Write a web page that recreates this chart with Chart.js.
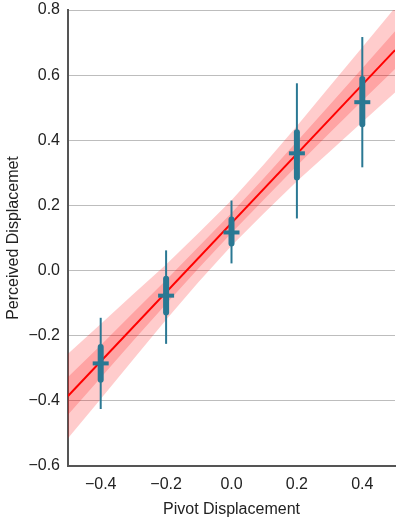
<!DOCTYPE html>
<html>
<head>
<meta charset="utf-8">
<script src="https://cdn.jsdelivr.net/npm/chart.js@4"></script>
<style>
  html, body { margin: 0; padding: 0; background: #fff; }
  canvas { display: block; }
</style>
</head>
<body>
<canvas id="chart" width="397" height="519"></canvas>
<script>
// значения
const pivotX = [-0.4, -0.2, 0.0, 0.2, 0.4];
const meanY = [-0.285, -0.077, 0.117, 0.36, 0.517];
const thinLo = [-0.425, -0.225, 0.022, 0.16, 0.317];
const thinHi = [-0.145, 0.062, 0.215, 0.575, 0.717];
const thickLo = [-0.335, -0.129, 0.083, 0.286, 0.449];
const thickHi = [-0.235, -0.025, 0.157, 0.425, 0.588];

// линия регрессии и доверительные полосы
const fitX = [-0.5, 0.5];
const fitY = [-0.385, 0.677];
const bandX = [-0.5, -0.4, -0.3, -0.2, -0.1, 0.0, 0.1, 0.2, 0.3, 0.4, 0.5];
const outerHi = [-0.255, -0.164, -0.072, 0.019, 0.116, 0.216, 0.327, 0.444, 0.565, 0.686, 0.807];
const outerLo = [-0.515, -0.394, -0.272, -0.151, -0.034, 0.076, 0.177, 0.274, 0.365, 0.456, 0.547];
const innerHi = [-0.327, -0.229, -0.129, -0.029, 0.074, 0.177, 0.285, 0.396, 0.508, 0.621, 0.735];
const innerLo = [-0.443, -0.329, -0.215, -0.103, 0.008, 0.115, 0.219, 0.322, 0.422, 0.521, 0.619];

const xTicks = [-0.4, -0.2, 0.0, 0.2, 0.4];
const yTicks = [-0.6, -0.4, -0.2, 0.0, 0.2, 0.4, 0.6, 0.8];

const teal = '#2a7893';
const pink = 'rgba(255, 0, 0, 0.2)';
const font = { family: 'Liberation Sans, Arial, sans-serif', size: 16 };

const pts = (xs, ys) => xs.map((x, i) => ({ x: x, y: ys[i] }));
const fmt = v => v.toFixed(1).replace('-', '\u2212');

const datasets = [];

// среднее — короткая горизонтальная черта
datasets.push({
    data: pts(pivotX, meanY),
    showLine: false,
    pointStyle: 'line',
    pointRadius: 8,
    pointBorderWidth: 4,
    pointBorderColor: teal,
    pointBackgroundColor: teal
});

// толстые и тонкие отрезки
pivotX.forEach((x, i) => {
    datasets.push({
        data: [{ x: x, y: thickLo[i] }, { x: x, y: thickHi[i] }],
        borderColor: teal,
        borderWidth: 6,
        borderCapStyle: 'round',
        pointRadius: 0
    });
});
pivotX.forEach((x, i) => {
    datasets.push({
        data: [{ x: x, y: thinLo[i] }, { x: x, y: thinHi[i] }],
        borderColor: teal,
        borderWidth: 2,
        pointRadius: 0
    });
});

datasets.push({
    data: pts(fitX, fitY),
    borderColor: '#ff0000',
    borderWidth: 2,
    pointRadius: 0
});

datasets.push({ data: pts(bandX, innerHi), borderWidth: 0, pointRadius: 0, fill: '+1', backgroundColor: pink });
datasets.push({ data: pts(bandX, innerLo), borderWidth: 0, pointRadius: 0 });
datasets.push({ data: pts(bandX, outerHi), borderWidth: 0, pointRadius: 0, fill: '+1', backgroundColor: pink });
datasets.push({ data: pts(bandX, outerLo), borderWidth: 0, pointRadius: 0 });

new Chart(document.getElementById('chart').getContext('2d'), {
    type: 'line',
    data: { datasets: datasets },
    options: {
        responsive: false,
        animation: false,
        layout: { autoPadding: false, padding: { left: 4, right: 2, top: 0, bottom: 0 } },
        plugins: { legend: { display: false }, tooltip: { enabled: false } },
        scales: {
            x: {
                type: 'linear',
                min: -0.5,
                max: 0.5,
                afterBuildTicks: s => { s.ticks = xTicks.map(v => ({ value: v })); },
                afterFit: s => { s.height = 53; },
                ticks: { callback: v => fmt(v), color: '#222', font: font, padding: 9, maxRotation: 0 },
                grid: { display: false, drawTicks: false },
                border: { display: true, color: '#555', width: 2 },
                title: { display: true, text: 'Pivot Displacement', color: '#222', font: font, padding: { top: 2, bottom: 0 } }
            },
            y: {
                type: 'linear',
                min: -0.6,
                max: 0.8,
                afterBuildTicks: s => { s.ticks = yTicks.map(v => ({ value: v })); },
                afterFit: s => { s.width = 64; s.paddingTop = 10; s.paddingBottom = 10; },
                ticks: { callback: v => fmt(v), color: '#222', font: font, padding: 8 },
                grid: { color: '#bdbdbd', lineWidth: 1, drawTicks: false },
                border: { display: true, color: '#555', width: 2 },
                title: { display: true, text: 'Perceived Displacemet', color: '#222', font: font, padding: { top: 0, bottom: 6 } }
            }
        }
    }
});
</script>
</body>
</html>
